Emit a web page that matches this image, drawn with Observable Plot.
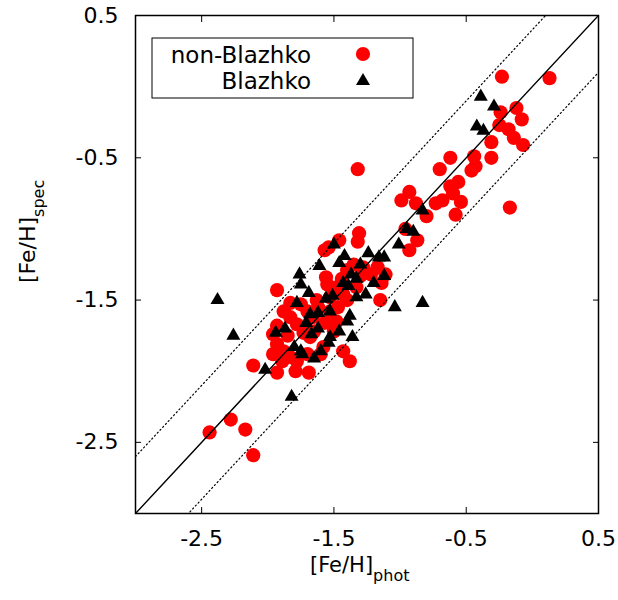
<!DOCTYPE html>
<html><head><meta charset="utf-8">
<script src="https://cdn.jsdelivr.net/npm/d3@7"></script>
<script src="https://cdn.jsdelivr.net/npm/@observablehq/plot@0.6"></script>
<style>body{margin:0;background:#fff}</style>
</head><body><div id="chart"></div>
<script>
// non-Blazhko stars: photometric vs spectroscopic [Fe/H]
const nonBlazhkoPhot = [-0.23,0.13,-0.12,-0.24,-0.08,-0.25,-0.18,-0.14,-0.07,-0.31,-0.31,-0.44,-0.43,-0.46,-0.62,-0.70,-1.32,-0.56,-0.62,-0.60,-0.54,-0.68,-0.73,-0.58,-0.17,-0.93,-0.99,-0.88,-0.80,-1.31,-1.32,-1.46,-1.54,-1.57,-0.96,-0.87,-0.93,-1.93,-1.15,-1.14,-1.11,-1.43,-1.38,-2.11,-2.28,-2.44,-2.17,-2.11,
  -1.56,-1.55,-1.35,-1.40,-1.17,-1.22,-1.44,-1.48,-1.33,-1.83,-1.75,-1.70,-1.53,-1.40,-1.83,-1.78,-1.93,-1.96,-1.85,-1.93,-1.96,-1.88,-1.83,-1.78,-1.70,-1.68,-1.60,-1.58,-1.50,-1.48,-1.93,-1.79,-1.69,-1.53,-1.63,-1.28,-1.89,-1.65,-1.43,-1.30,
  -1.62,-1.47,-1.57,-1.73,-1.88,-1.66];
const nonBlazhkoSpec = [0.07,0.06,-0.15,-0.18,-0.23,-0.27,-0.30,-0.36,-0.41,-0.39,-0.50,-0.49,-0.56,-0.59,-0.50,-0.58,-0.58,-0.67,-0.70,-0.75,-0.81,-0.80,-0.82,-0.90,-0.85,-0.74,-0.80,-0.82,-0.91,-1.03,-1.09,-1.08,-1.13,-1.15,-1.00,-1.08,-1.15,-1.43,-1.50,-1.38,-1.32,-1.86,-1.93,-1.96,-2.34,-2.43,-2.41,-2.59,
  -1.34,-1.39,-1.25,-1.29,-1.27,-1.32,-1.35,-1.41,-1.41,-1.52,-1.53,-1.58,-1.48,-1.50,-1.62,-1.67,-1.68,-1.74,-1.75,-1.81,-1.88,-1.86,-1.90,-1.93,-1.88,-1.76,-1.88,-1.83,-1.72,-1.65,-2.01,-2.00,-2.01,-1.58,-1.50,-1.27,-1.93,-1.72,-1.46,-1.33,
  -1.55,-1.55,-1.66,-1.73,-1.58,-1.62];
// Blazhko stars
const blazhkoPhot = [-0.39,-0.29,-0.42,-0.37,-0.83,-0.95,-0.90,-1.01,-1.50,-1.42,-1.24,-1.16,-1.12,-1.46,-1.30,-1.61,-1.76,-1.37,-1.75,-1.69,-1.43,-1.39,-1.33,-1.20,-1.12,-1.26,-1.33,-1.56,-1.51,-2.38,-1.78,-1.04,-0.83,-1.68,-1.62,-1.53,-1.71,-1.38,-1.40,-1.94,-1.87,-1.62,-1.67,-1.46,-1.36,-1.53,-1.54,-2.26,-1.80,-1.75,-1.74,-1.60,-1.65,-2.02,-1.82];
const blazhkoSpec = [-0.07,-0.14,-0.28,-0.31,-0.87,-1.00,-1.02,-1.11,-1.11,-1.19,-1.17,-1.20,-1.20,-1.24,-1.25,-1.26,-1.32,-1.32,-1.39,-1.45,-1.38,-1.40,-1.35,-1.38,-1.33,-1.46,-1.48,-1.49,-1.47,-1.50,-1.52,-1.55,-1.52,-1.60,-1.59,-1.58,-1.66,-1.61,-1.65,-1.73,-1.70,-1.70,-1.74,-1.72,-1.76,-1.76,-1.80,-1.75,-1.83,-1.86,-1.88,-1.86,-1.91,-1.99,-2.18];

const axisDomain = [-3, 0.5];
const axisTicks = [-2.5, -1.5, -0.5, 0.5];
const tickLabels = ["-2.5", "-1.5", "-0.5", "0.5"];
const bandOffsets = [0.4, -0.4];
const legendLabels = ["non-Blazhko", "Blazhko"];

const nonBlazhko = nonBlazhkoPhot.map((x, i) => ({x, y: nonBlazhkoSpec[i]}));
const blazhko = blazhkoPhot.map((x, i) => ({x, y: blazhkoSpec[i]}));
const fmt = d => tickLabels[axisTicks.indexOf(d)];
const FONT = "'DejaVu Sans', sans-serif";

const plot = Plot.plot({
  width: 618, height: 600,
  marginLeft: 135, marginRight: 20, marginTop: 15, marginBottom: 87,
  style: {fontFamily: FONT, fontSize: "22px", background: "#fff", color: "#000"},
  x: {domain: axisDomain},
  y: {domain: axisDomain},
  marks: [
    Plot.dot(nonBlazhko, {x: "x", y: "y", r: 7.1, fill: "#ff0000", stroke: "none"}),
    Plot.dot(blazhko, {x: "x", y: "y", r: 5.2, symbol: "triangle", fill: "#000", stroke: "none"}),
    Plot.line(axisDomain, {x: d => d, y: d => d, stroke: "#000", strokeWidth: 1.4, clip: true}),
    ...bandOffsets.map(o => Plot.line(axisDomain, {x: d => d, y: d => d + o, stroke: "#000", strokeWidth: 1.2, strokeDasharray: "1.2,2.8", clip: true})),
    Plot.axisX({anchor: "bottom", ticks: axisTicks, tickFormat: fmt, tickSize: -6, tickPadding: 23, label: null}),
    Plot.axisX({anchor: "top", ticks: axisTicks, tickSize: -6, fill: "none", label: null}),
    Plot.axisY({anchor: "left", ticks: axisTicks, tickFormat: fmt, tickSize: -6, tickPadding: 23, label: null}),
    Plot.axisY({anchor: "right", ticks: axisTicks, tickSize: -6, fill: "none", label: null}),
    Plot.frame({stroke: "#000", strokeWidth: 1.5})
  ]
});
document.getElementById("chart").append(plot);

const svg = d3.select(plot);
// axis titles with subscripts
const xl = svg.append("text").attr("x", 310).attr("y", 572).attr("text-anchor", "start")
  .attr("font-family", FONT).attr("font-size", 21).attr("fill", "#000");
xl.append("tspan").text("[Fe/H]");
xl.append("tspan").attr("dy", 9).attr("font-size", 16).text("phot");

const yl = svg.append("text").attr("transform", "translate(35,283) rotate(-90)").attr("text-anchor", "start")
  .attr("font-family", FONT).attr("font-size", 22).attr("fill", "#000");
yl.append("tspan").text("[Fe/H]");
yl.append("tspan").attr("dy", 9).attr("font-size", 16).text("spec");

// legend
const lg = svg.append("g");
lg.append("rect").attr("x", 152).attr("y", 38).attr("width", 261).attr("height", 60)
  .attr("fill", "#fff").attr("stroke", "#000").attr("stroke-width", 1);
lg.append("text").attr("x", 311).attr("y", 63).attr("text-anchor", "end")
  .attr("font-family", FONT).attr("font-size", 23).attr("fill", "#000").text(legendLabels[0]);
lg.append("text").attr("x", 311).attr("y", 89).attr("text-anchor", "end")
  .attr("font-family", FONT).attr("font-size", 23).attr("fill", "#000").text(legendLabels[1]);
lg.append("circle").attr("cx", 363).attr("cy", 54).attr("r", 7.1).attr("fill", "#ff0000");
lg.append("path").attr("transform", "translate(363,81)")
  .attr("d", d3.symbol(d3.symbolTriangle, 5.2 * 5.2 * Math.PI)()).attr("fill", "#000");
</script>
</body></html>
